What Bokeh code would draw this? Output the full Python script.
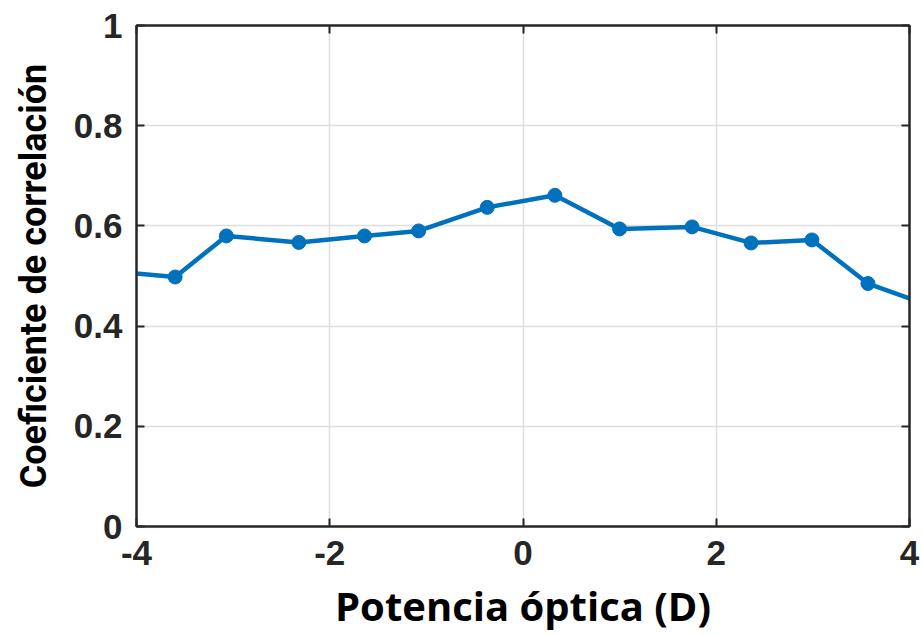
from bokeh.plotting import figure
from bokeh.models import Range1d, LinearAxis, FixedTicker, CustomJSTickFormatter
from bokeh.embed import file_html
from bokeh.resources import INLINE

# Data (first and last points lie just outside the visible range)
potencia = [-4.25, -3.60, -3.07, -2.32, -1.64, -1.08, -0.37, 0.33, 1.00, 1.75, 2.36, 2.99, 3.57, 4.22]
coef = [0.509, 0.498, 0.580, 0.567, 0.580, 0.590, 0.637, 0.661, 0.594, 0.598, 0.566, 0.572, 0.485, 0.440]
x_ticks = [-4, -2, 0, 2, 4]
y_ticks = [0, 0.2, 0.4, 0.6, 0.8, 1]

BLUE = "#0072BD"
AX = "#262626"

p = figure(width=922, height=635, output_backend="svg", toolbar_location=None,
           x_range=Range1d(-4, 4), y_range=Range1d(0, 1),
           min_border_left=136, min_border_right=13, min_border_top=25, min_border_bottom=108)
p.background_fill_color = "white"
p.border_fill_color = "white"
p.outline_line_color = AX
p.outline_line_width = 2

p.line(potencia, coef, line_color=BLUE, line_width=4.5)
p.scatter(potencia, coef, size=14, fill_color=BLUE, line_color=BLUE)

fmt = CustomJSTickFormatter(code="return (Math.round(tick*10)/10).toString();")
blank = CustomJSTickFormatter(code="return '';")

for ax in (p.xaxis[0], p.yaxis[0]):
    ax.axis_line_color = AX
    ax.axis_line_width = 2
    ax.major_tick_in = 8
    ax.major_tick_out = 0
    ax.major_tick_line_color = AX
    ax.major_tick_line_width = 2
    ax.minor_tick_line_color = None
    ax.major_label_text_font = "Liberation Sans"
    ax.major_label_text_font_style = "bold"
    ax.major_label_text_font_size = "35px"
    ax.major_label_text_color = AX
    ax.formatter = fmt

p.xaxis[0].ticker = FixedTicker(ticks=x_ticks)
p.yaxis[0].ticker = FixedTicker(ticks=y_ticks)
p.xaxis[0].major_label_standoff = 14
p.yaxis[0].major_label_standoff = 14

p.xaxis[0].axis_label = "Potencia óptica (D)"
p.xaxis[0].axis_label_text_font = "Open Sans"
p.xaxis[0].axis_label_text_font_style = "bold"
p.xaxis[0].axis_label_text_font_size = "40px"
p.xaxis[0].axis_label_text_color = "black"
p.xaxis[0].axis_label_standoff = 10

p.yaxis[0].axis_label = "Coeficiente de correlación"
p.yaxis[0].axis_label_text_font = "Roboto"
p.yaxis[0].axis_label_text_font_style = "bold"
p.yaxis[0].axis_label_text_font_size = "36px"
p.yaxis[0].axis_label_text_color = "black"
p.yaxis[0].axis_label_standoff = 16

# box ticks on top and right
top = LinearAxis(ticker=FixedTicker(ticks=x_ticks), formatter=blank,
                 major_tick_in=8, major_tick_out=0, major_tick_line_color=AX, major_tick_line_width=2,
                 axis_line_color=AX, axis_line_width=2, minor_tick_line_color=None)
right = LinearAxis(ticker=FixedTicker(ticks=y_ticks), formatter=blank,
                   major_tick_in=8, major_tick_out=0, major_tick_line_color=AX, major_tick_line_width=2,
                   axis_line_color=AX, axis_line_width=2, minor_tick_line_color=None)
p.add_layout(top, "above")
p.add_layout(right, "right")

p.xgrid.ticker = FixedTicker(ticks=x_ticks)
p.ygrid.ticker = FixedTicker(ticks=y_ticks)
p.grid.grid_line_color = "#dedede"
p.grid.grid_line_width = 1.5

open("out.html", "w").write(file_html(p, INLINE))
